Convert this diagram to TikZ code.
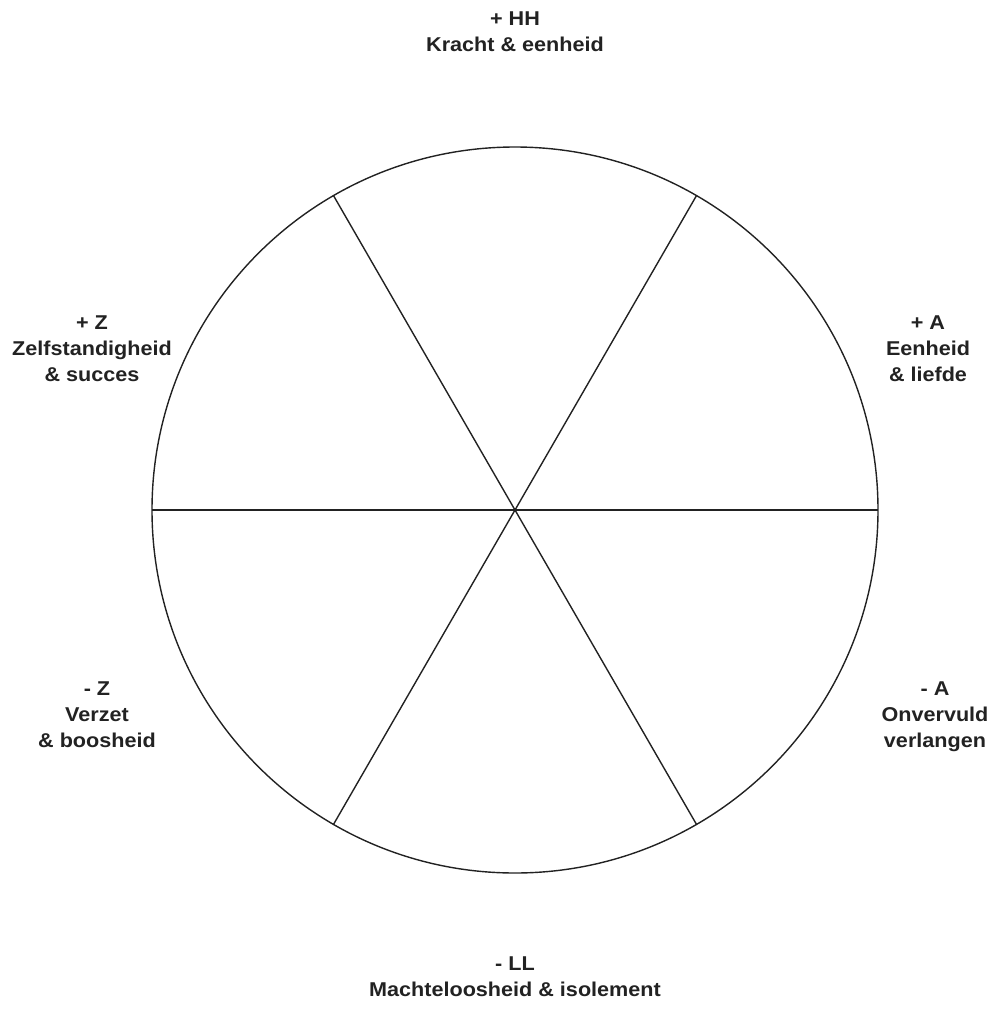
\documentclass[tikz,border=0pt]{standalone}
\usepackage{fontspec}
\setmainfont{Liberation Sans}
\definecolor{ink}{HTML}{222222}
\tikzset{
  lbl/.style={font=\fontsize{20}{26}\selectfont\bfseries, text=ink, align=center, inner sep=0pt, xscale=1.08},
  wheel/.style={draw=ink, line width=1.4pt}
}
\begin{document}
\begin{tikzpicture}[x=1pt,y=-1pt]
\useasboundingbox (0,0) rectangle (995,1026);
\coordinate (c) at (515,510);
\draw[wheel] (c) circle (363);
\coordinate (e) at (878,510);
\coordinate (w) at (152,510);
\coordinate (ne) at (696.5,195.6);
\coordinate (sw) at (333.5,824.4);
\coordinate (nw) at (333.5,195.6);
\coordinate (se) at (696.5,824.4);
\draw[wheel] (w) -- (e);
\draw[wheel] (ne) -- (sw);
\draw[wheel] (nw) -- (se);
\node[lbl, anchor=base] (hh) at (515,51) {+ HH\\Kracht \& eenheid};
\node[lbl, anchor=base] (pz) at (92,381) {+ Z\\Zelfstandigheid\\\& succes};
\node[lbl, anchor=base] (pa) at (928,381) {+ A\\Eenheid\\\& liefde};
\node[lbl, anchor=base] (mz) at (97,747) {- Z\\Verzet\\\& boosheid};
\node[lbl, anchor=base] (ma) at (935,747) {- A\\Onvervuld\\verlangen};
\node[lbl, anchor=base] (ll) at (515,996) {- LL\\Machteloosheid \& isolement};
\end{tikzpicture}
\end{document}
